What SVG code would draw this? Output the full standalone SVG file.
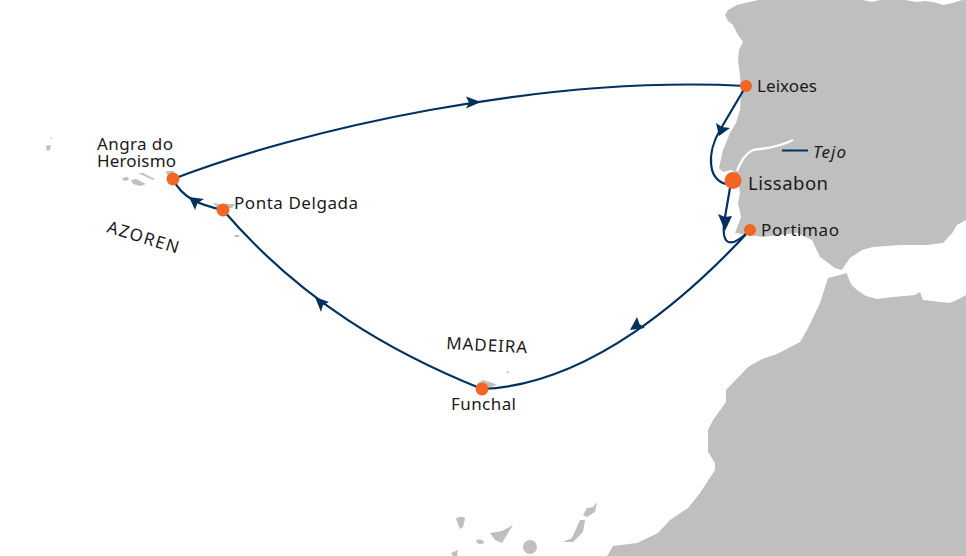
<svg xmlns="http://www.w3.org/2000/svg" width="966" height="556" viewBox="0 0 966 556">
<style>
.land{fill:#bfbfbf}
.route{fill:none;stroke:#03315f;stroke-width:2.2}
.head{fill:#03315f}
.port{fill:#f26522}
text{font-family:"Noto Sans",sans-serif;fill:#1a1a1a;font-size:17px}
</style>
<rect width="966" height="556" fill="#fff"/>
<g id="land">
<path class="land" d="M758 0L745 3L737 5L728 10L725 15L728 21L733 25L735 29L738 35L743 42L739 50L738 60L740 75L741 92L740 110L736 123L730 133L723 150L719 168L723 172L731 170L735 172L738 180L740 193L738 203L741 217L735 233L763 237L797 233L812 240L820 257L835 268L842 270L845 265L850 258L862 250L873 247L900 245L927 245L943 243L953 232L957 225L966 220L966 0L962 0L953 3L943 5L933 2L925 1L917 2L905 0L880 0L872 2L863 0Z"/>
<path class="land" d="M847 273L828 278L820 303L807 330L800 342L777 354L762 359L748 367L726 390L726 402L713 420L708 430L708 452L715 463L715 470L700 493L688 508L670 520L658 533L637 543L613 546L607 556L966 556L966 295L957 300L950 303L923 300L920 292L915 295L893 297L877 299L866 296L857 290L851 284L848 277Z"/>
<path class="land" d="M456 519C458 516 465 516 465 519L463 527L460 529L458 524Z"/>
<path class="land" d="M490 533L502 531L513 525L508 533L502 543L495 540Z"/>
<path class="land" d="M476 541C479 538 484 540 484 543C481 545 477 544 476 541Z"/>
<circle class="land" cx="530" cy="547" r="7"/>
<path class="land" d="M563 542L572 538L580 520L585 520L583 532L573 542Z"/>
<path class="land" d="M583 515L587 508L593 507L597 502L595 512L587 517Z"/>
<path class="land" d="M451 553L458 550L457 556L453 556Z"/>
<path class="land" d="M478 383L483 380L493 383L497 385L488 388L476 387Z"/>
<path class="land" d="M506 372L509 371L508 374Z"/>
<path class="land" d="M46 146L51 145L50 150L47 151Z"/>
<path class="land" d="M50 138L52 137L52 139Z"/>
<path class="land" d="M122 178L128 177L129 180L124 181Z"/>
<path class="land" d="M131 180L136 179L146 184L140 186L133 184Z"/>
<path class="land" d="M138 173L143 173L155 179L153 180Z"/>
<path class="land" d="M166 171L174 171L172 176L167 175Z"/>
<path class="land" d="M213 203L220 204L235 204L232 208L218 208Z"/>
<path class="land" d="M234 235L239 235L239 237L235 237Z"/>
<path d="M737 171C740 163 744 154 753 150C762 148 775 149 793 140" fill="none" stroke="#fff" stroke-width="2.400"/>
</g>
<g id="connectors">
<path class="route" d="M173 179C300 130 540 75 746 86"/>
<path class="route" d="M746 86L720 130C708 150 704 184 733 185"/>
<path class="route" d="M730 188L725 217C720 246 730 250 750 230"/>
<path class="route" d="M750 230C690 295 590 385 482 389"/>
<path class="route" d="M482 389C390 352 300 300 223 210"/>
<path class="route" d="M223 210C200 205 182 198 173 179"/>
<line x1="782" y1="150.500" x2="808" y2="150.500" stroke="#03315f" stroke-width="2"/>
<path class="head" d="M481 102L466 108.500L469 102.500L466 96.500Z"/>
<path class="head" d="M719 136L716 123L722 127L730 128Z"/>
<path class="head" d="M725 231L718 214L725 217L732 216Z"/>
<path class="head" d="M630 330L637 317L639.500 324L645 328Z"/>
<path class="head" d="M315 297L329 302L323 305L321 312Z"/>
<path class="head" d="M189 197L204 199L197.500 203L195 210Z"/>
</g>
<g id="leixoes"><circle class="port" cx="746" cy="86" r="6"/><text x="757" y="92" textLength="60">Leixoes</text></g>
<g id="lissabon"><circle class="port" cx="733" cy="180.500" r="8.500"/><text x="748" y="190" textLength="80" style="font-size:18.500px">Lissabon</text></g>
<g id="portimao"><circle class="port" cx="750" cy="230" r="6"/><text x="761" y="236" textLength="78">Portimao</text></g>
<g id="funchal"><circle class="port" cx="482" cy="389" r="6.500"/><text x="451" y="410" textLength="65">Funchal</text></g>
<g id="ponta-delgada"><circle class="port" cx="223" cy="210" r="6.500"/><text x="234" y="209" textLength="124">Ponta Delgada</text></g>
<g id="angra"><circle class="port" cx="173" cy="179" r="6.500"/><text x="97" y="150" textLength="76">Angra do</text><text x="97" y="167" textLength="79">Heroismo</text></g>
<g id="labels">
<text x="813" y="158" textLength="33" style="font-style:italic">Tejo</text>
<text transform="translate(106 232) rotate(17)" textLength="74">AZOREN</text>
<text transform="translate(446 349) rotate(3)" textLength="81">MADEIRA</text>
</g>
</svg>
